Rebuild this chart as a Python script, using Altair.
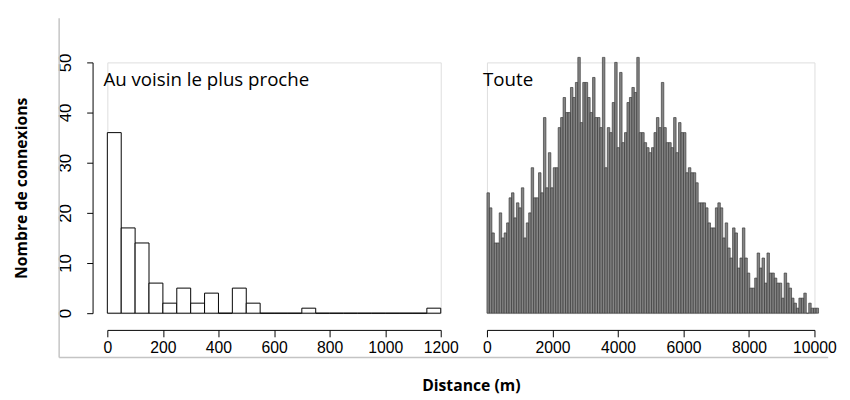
import altair as alt
import pandas as pd

# ---- data ----
near_bin = 50
near_counts = [36, 17, 14, 6, 2, 5, 2, 4, 0, 5, 2, 0, 0, 0, 1, 0, 0, 0, 0, 0, 0, 0, 0, 1]

all_bin = 75
all_counts = [
    24, 21, 16, 14, 14, 20, 15, 16, 18, 23, 24, 19, 22, 21, 25, 15, 18, 20, 29, 23,
    23, 28, 24, 39, 25, 32, 25, 29, 29, 37, 39, 43, 40, 40, 45, 43, 46, 51, 38, 46,
    46, 43, 40, 47, 39, 39,
    37, 51, 29, 37, 36, 42, 50, 33, 48, 34, 36, 42, 43, 45, 44, 51, 36, 36, 34, 33,
    32, 33, 36, 39, 37, 46,
    37, 34, 34, 33, 39, 32, 38, 36, 36, 28, 29, 28, 28, 26, 22, 22, 22, 21, 18, 17, 17,
    21, 22, 21, 15, 18, 13, 11, 17, 16, 9, 11, 17, 11, 8, 5, 5, 7, 12, 9, 11, 6, 12, 8, 8,
    7, 6, 6, 3, 8, 6, 5, 3, 2, 1, 3, 3, 4, 0, 2, 1, 1, 1,
]

left_label = "Au voisin le plus proche"
right_label = "Toute"
y_title = "Nombre de connexions"
x_title = "Distance (m)"
y_ticks = [0, 10, 20, 30, 40, 50]
left_ticks = [0, 200, 400, 600, 800, 1000, 1200]
right_ticks = [0, 2000, 4000, 6000, 8000, 10000]

near_df = pd.DataFrame({
    "start": [i * near_bin for i in range(len(near_counts))],
    "count": near_counts,
})
near_df["end"] = near_df["start"] + near_bin
near_df["base"] = 0

all_df = pd.DataFrame({
    "start": [i * all_bin for i in range(len(all_counts))],
    "count": all_counts,
})
all_df["end"] = all_df["start"] + all_bin
all_df["base"] = 0

H = 255
LABEL_FONT = "Liberation Sans"
TITLE_FONT = "Open Sans"

yscale = alt.Scale(domain=[0, 50], nice=False, zero=True)


def x_axis(vals):
    return alt.Axis(values=vals, title=None, offset=17, tickSize=7, labelPadding=3,
                    grid=False, labelFlush=False, labelOverlap=False,
                    labelFont=LABEL_FONT, labelFontSize=16, labelColor="black",
                    domainColor="black", tickColor="black", format="d")


def panel_text(txt):
    return alt.Chart(pd.DataFrame({"t": [txt]})).mark_text(
        align="left", baseline="alphabetic", font=TITLE_FONT, fontSize=19, color="black"
    ).encode(x=alt.value(-4), y=alt.value(24), text="t:N")


left_bars = alt.Chart(near_df).mark_rect(fill="white", stroke="black", strokeWidth=1).encode(
    x=alt.X("start:Q", scale=alt.Scale(domain=[0, 1200], nice=False), axis=x_axis(left_ticks)),
    x2="end:Q",
    y=alt.Y("count:Q", scale=yscale,
            axis=alt.Axis(values=y_ticks, title=y_title, offset=15, tickSize=6, grid=False,
                          labelAngle=270, labelAlign="center", labelBaseline="bottom",
                          labelPadding=12, labelFlush=False, labelFont=LABEL_FONT,
                          labelFontSize=17, labelColor="black", domainColor="black",
                          tickColor="black", titleFont=TITLE_FONT, titleFontSize=16,
                          titleFontWeight="bold", titleColor="black", titlePadding=28)),
    y2="base:Q",
)

frame = alt.Chart(pd.DataFrame({"k": [0]}))
frame_v = frame.mark_rule(color="#c4c4c4", strokeWidth=1.5).encode(
    x=alt.value(-49), y=alt.value(-45), y2=alt.value(300))
frame_h = frame.mark_rule(color="#c4c4c4", strokeWidth=1.5).encode(
    x=alt.value(-49), x2=alt.value(733), y=alt.value(300))

left = alt.layer(frame_v, frame_h, left_bars, panel_text(left_label)).properties(width=339, height=H)

right_bars = alt.Chart(all_df).mark_rect(fill="#858585", stroke="#3a3a3a", strokeWidth=0.7).encode(
    x=alt.X("start:Q", scale=alt.Scale(domain=[0, 10000], nice=False), axis=x_axis(right_ticks)),
    x2="end:Q",
    y=alt.Y("count:Q", scale=yscale, axis=None),
    y2="base:Q",
)

right = alt.layer(right_bars, panel_text(right_label)).properties(width=333, height=H)

chart = alt.hconcat(left, right, spacing=47, bounds="flush").resolve_scale(
    y="independent", x="independent"
).properties(
    title=alt.TitleParams(x_title, orient="bottom", anchor="middle", font=TITLE_FONT,
                          fontSize=16, fontWeight="bold", color="black", offset=20, dx=47)
).configure_view(
    stroke="white", strokeWidth=0, fill="white"
).configure_axis(
    grid=False
).configure(background="white")

chart.save("out.html", embed_options={"renderer": "svg", "actions": False})
